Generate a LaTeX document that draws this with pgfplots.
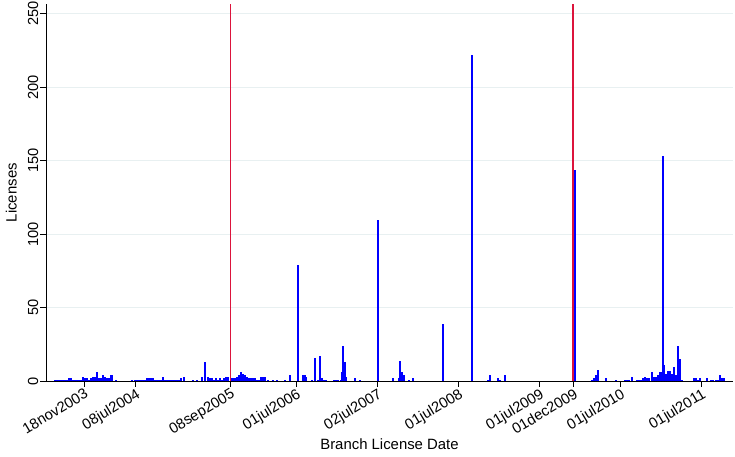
\documentclass[border=0pt]{standalone}
\usepackage{fontspec}
\setmainfont{Liberation Sans}
\usepackage{pgfplots}
\pgfplotsset{compat=1.18}
\definecolor{gridc}{RGB}{232,240,241}
\definecolor{redline}{RGB}{220,20,60}
\begin{document}
\begin{tikzpicture}
\path[use as bounding box] (0,0) rectangle (735pt,456pt);
\begin{axis}[
 at={(46pt,74.7pt)}, anchor=south west,
 scale only axis, width=687pt, height=377.3pt,
 xmin=150, xmax=3245, ymin=0, ymax=256.6,
 axis x line*=bottom, axis y line*=left,
 axis line style={line width=0.8pt, -, black},
 tick align=outside, major tick length=5.5pt,
 tick style={line width=0.8pt, black},
 xtick={321,554,981,1277,1643,2008,2373,2526,2738,3103},
 xticklabels={18nov2003,08jul2004,08sep2005,01jul2006,02jul2007,01jul2008,01jul2009,01dec2009,01jul2010,01jul2011},
 xticklabel style={rotate=31, anchor=north east, inner sep=0.5pt, font=\fontsize{14.8}{16}\selectfont},
 ytick={0,50,...,250},
 yticklabel style={rotate=90, anchor=south, inner sep=2pt, font=\fontsize{14.6}{16}\selectfont},
 /pgf/number format/assume math mode=true,
 ymajorgrids, grid style={gridc, line width=1pt},
 xlabel={Branch License Date}, ylabel={Licenses},
 label style={font=\fontsize{14.9}{17}\selectfont},
 xlabel style={at={(axis description cs:0.5,-0.166)}, anchor=center},
 ylabel style={at={(axis description cs:-0.0393,0.5)}, anchor=south, inner sep=2pt},
]
\addplot[redline, line width=1.3pt] coordinates {(981,0)(981,256.6)};
\addplot[redline, line width=1.3pt] coordinates {(2524,0)(2524,256.6)};
\addplot[ycomb, color=blue, line width=2pt] coordinates {
(190,1)(199,1)(208,1)(217,1)(226,1)(235,1)(244,1)(253,2)(262,2)(271,1)(280,1)(289,1)(298,1)(307,1)(316,3)(325,2)(334,2)(343,1)(352,2)(361,3)(370,3)(379,6)(388,2)(397,2)(406,4)(415,3)(424,2)(433,2)(442,4)(447,4)(465,1)
(537,1)(551,1)(560,1)(569,1)(578,1)(587,1)(596,1)(605,2)(614,2)(623,2)(632,2)(641,1)(650,1)(659,1)(668,1)(677,3)(686,1)(695,1)(704,1)(713,1)(722,1)(731,1)(740,1)(749,1)(758,2)(772,3)(812,1)(830,1)(853,3)(866,13)(880,3)(889,2)(898,2)(907,1)(916,2)(925,1)(934,2)(943,1)(952,2)(961,3)(970,3)
(987,2)(994,2)(1001,2)(1010,3)(1019,4)(1028,6)(1037,5)(1046,4)(1055,3)(1064,2)(1073,2)(1082,2)(1091,2)(1100,1)(1109,1)(1118,3)(1127,3)(1136,3)(1150,1)(1172,1)(1190,1)(1226,1)(1249,4)
(1285,79)(1308,4)(1317,4)(1321,3)(1348,1)(1362,16)(1375,1)(1384,17)(1393,2)(1402,1)(1411,1)(1447,1)(1456,1)(1465,1)(1479,1)(1483,6)(1488,24)(1497,13)(1501,3)(1542,2)(1564,1)(1645,110)(1713,2)(1740,2)(1745,14)(1754,6)(1763,4)(1785,1)(1803,2)(1938,39)(2069,222)(2141,1)(2150,4)(2186,2)(2195,1)(2218,4)(2533,144)
(2610,1)(2619,2)(2628,4)(2637,8)(2673,2)(2718,1)(2758,1)(2767,1)(2776,1)(2790,3)(2812,1)(2821,1)(2830,1)(2839,2)(2848,3)(2857,2)(2866,2)(2880,6)(2889,3)(2898,3)(2907,4)(2916,6)(2920,6)(2929,153)(2934,11)(2943,5)(2952,7)(2961,7)(2970,5)(2979,10)(2988,4)(2997,24)(3006,15)(3015,1)(3069,2)(3078,2)(3087,1)(3096,2)(3128,2)(3146,1)(3155,1)(3168,1)(3177,1)(3186,4)(3195,2)(3204,2)
};
\end{axis}
\end{tikzpicture}
\end{document}
